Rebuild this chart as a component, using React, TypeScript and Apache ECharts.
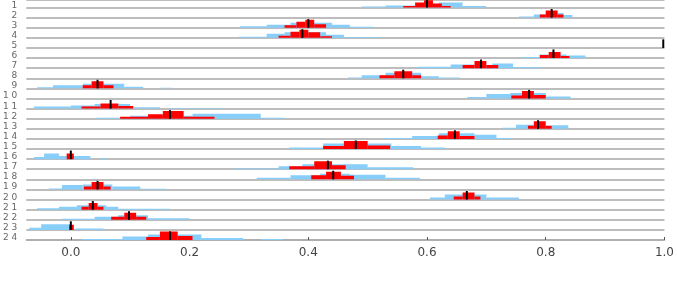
import React, { useEffect, useRef } from "react";
import * as echarts from "echarts";

const rowLabels = ["1","2","3","4","5","6","7","8","9","1 0","1 1","1 2","1 3","1 4","1 5","1 6","1 7","1 8","1 9","2 0","2 1","2 2","2 3","2 4"];
const xTicks = [0, 0.2, 0.4, 0.6, 0.8, 1.0];
const xTickLabels = ["0.0", "0.2", "0.4", "0.6", "0.8", "1.0"];
const means = [0.60,0.81,0.40,0.39,0.998,0.813,0.691,0.56,0.045,0.772,0.067,0.167,0.787,0.647,0.48,0.0,0.433,0.442,0.045,0.667,0.037,0.098,0.0,0.167];

// [start, end, height]
const blueHist: number[][][] = [
  [[0.49,0.53,0.1],[0.53,0.58,0.2],[0.58,0.62,0.3],[0.62,0.66,0.5],[0.66,0.70,0.15]],
  [[0.755,0.78,0.1],[0.78,0.80,0.3],[0.80,0.83,0.45],[0.83,0.845,0.25]],
  [[0.285,0.33,0.15],[0.33,0.37,0.3],[0.37,0.44,0.5],[0.44,0.47,0.3],[0.47,0.51,0.1]],
  [[0.283,0.33,0.1],[0.33,0.36,0.4],[0.36,0.43,0.55],[0.43,0.46,0.3],[0.46,0.52,0.08]],
  [],
  [[0.758,0.79,0.1],[0.79,0.835,0.35],[0.835,0.867,0.25]],
  [[0.585,0.64,0.15],[0.64,0.68,0.35],[0.68,0.71,0.25],[0.71,0.745,0.45],[0.745,0.793,0.1]],
  [[0.467,0.49,0.08],[0.49,0.53,0.3],[0.53,0.59,0.55],[0.59,0.62,0.2],[0.62,0.655,0.08]],
  [[-0.057,-0.03,0.1],[-0.03,0.02,0.3],[0.02,0.09,0.45],[0.09,0.122,0.15],[0.15,0.17,0.05]],
  [[0.668,0.70,0.15],[0.70,0.74,0.45],[0.74,0.80,0.55],[0.80,0.842,0.2]],
  [[-0.062,0.0,0.2],[0.0,0.04,0.3],[0.04,0.10,0.45],[0.10,0.15,0.12],[0.17,0.26,0.05]],
  [[0.043,0.10,0.1],[0.10,0.205,0.3],[0.205,0.32,0.5],[0.32,0.36,0.1]],
  [[0.727,0.75,0.1],[0.75,0.78,0.4],[0.78,0.81,0.3],[0.81,0.838,0.35]],
  [[0.527,0.575,0.1],[0.575,0.62,0.3],[0.62,0.68,0.55],[0.68,0.717,0.4],[0.717,0.743,0.1]],
  [[0.368,0.425,0.15],[0.425,0.54,0.55],[0.54,0.59,0.3],[0.59,0.63,0.15]],
  [[-0.062,-0.045,0.2],[-0.045,-0.02,0.55],[-0.02,0.01,0.3],[0.01,0.033,0.3],[0.05,0.06,0.1]],
  [[0.275,0.35,0.08],[0.35,0.39,0.3],[0.39,0.50,0.5],[0.50,0.577,0.2]],
  [[0.313,0.37,0.15],[0.37,0.42,0.4],[0.42,0.47,0.55],[0.47,0.53,0.45],[0.53,0.588,0.15]],
  [[-0.037,-0.015,0.1],[-0.015,0.02,0.45],[0.02,0.07,0.5],[0.07,0.117,0.3],[0.117,0.16,0.08]],
  [[0.605,0.63,0.2],[0.63,0.70,0.5],[0.70,0.755,0.2]],
  [[-0.057,-0.02,0.15],[-0.02,0.01,0.3],[0.01,0.06,0.45],[0.06,0.08,0.3],[0.08,0.167,0.1]],
  [[-0.015,0.04,0.1],[0.04,0.08,0.3],[0.08,0.13,0.45],[0.13,0.2,0.15]],
  [[-0.07,-0.05,0.2],[-0.05,0.0,0.55],[0.008,0.055,0.15]],
  [[0.018,0.087,0.1],[0.087,0.13,0.35],[0.13,0.22,0.55],[0.22,0.29,0.2],[0.32,0.357,0.1]],
];

const redHist: number[][][] = [
  [[0.56,0.58,0.15],[0.58,0.595,0.5],[0.595,0.61,0.8],[0.61,0.625,0.4],[0.625,0.64,0.15]],
  [[0.79,0.80,0.3],[0.80,0.82,0.7],[0.82,0.83,0.3]],
  [[0.36,0.38,0.25],[0.38,0.395,0.6],[0.395,0.41,0.8],[0.41,0.43,0.35]],
  [[0.35,0.37,0.2],[0.37,0.385,0.6],[0.385,0.40,0.8],[0.40,0.42,0.55],[0.42,0.44,0.15]],
  [],
  [[0.79,0.805,0.3],[0.805,0.825,0.6],[0.825,0.84,0.2]],
  [[0.66,0.68,0.3],[0.68,0.70,0.7],[0.70,0.72,0.3]],
  [[0.52,0.545,0.3],[0.545,0.575,0.7],[0.575,0.59,0.3]],
  [[0.02,0.035,0.3],[0.035,0.055,0.7],[0.055,0.072,0.3]],
  [[0.742,0.76,0.3],[0.76,0.78,0.75],[0.78,0.80,0.35]],
  [[0.018,0.05,0.2],[0.05,0.08,0.5],[0.08,0.105,0.25]],
  [[0.083,0.13,0.2],[0.13,0.155,0.45],[0.155,0.19,0.75],[0.19,0.242,0.2]],
  [[0.77,0.78,0.3],[0.78,0.80,0.75],[0.80,0.81,0.3]],
  [[0.618,0.635,0.35],[0.635,0.655,0.75],[0.655,0.68,0.3]],
  [[0.425,0.46,0.3],[0.46,0.50,0.8],[0.50,0.538,0.35]],
  [[-0.007,0.005,0.55]],
  [[0.368,0.41,0.3],[0.41,0.44,0.8],[0.44,0.463,0.4]],
  [[0.405,0.43,0.4],[0.43,0.455,0.75],[0.455,0.477,0.35]],
  [[0.022,0.035,0.3],[0.035,0.055,0.75],[0.055,0.067,0.3]],
  [[0.645,0.66,0.3],[0.66,0.68,0.7],[0.68,0.69,0.3]],
  [[0.018,0.03,0.3],[0.03,0.045,0.65],[0.045,0.055,0.3]],
  [[0.068,0.09,0.3],[0.09,0.11,0.7],[0.11,0.127,0.3]],
  [[-0.003,0.005,0.5]],
  [[0.127,0.15,0.3],[0.15,0.18,0.85],[0.18,0.205,0.4]],
];

const nRows = rowLabels.length;

function histData(hist: number[][][]) {
  const out: number[][] = [];
  hist.forEach((bins, i) => {
    bins.forEach((b) => out.push([b[0], b[1], b[2], nRows - 1 - i]));
  });
  return out;
}

function barRender(color: string) {
  return (params: any, api: any) => {
    const base = api.value(3);
    const p0 = api.coord([api.value(0), base]);
    const p1 = api.coord([api.value(1), base + api.value(2)]);
    return {
      type: "rect",
      shape: { x: p0[0], y: p1[1], width: p1[0] - p0[0], height: p0[1] - p1[1] },
      style: { fill: color },
    };
  };
}

export default function App() {
  const ref = useRef<HTMLDivElement>(null);
  useEffect(() => {
    if (!ref.current) return;
    const chart = echarts.init(ref.current, null, { renderer: "svg" });
    const meanData = means.map((m, i) => [m, nRows - 1 - i]);
    chart.setOption({
      animation: false,
      grid: { left: 22, top: 0, width: 645, height: 240, containLabel: false },
      xAxis: {
        type: "value",
        min: -0.075,
        max: 1.0,
        axisLine: { show: true, lineStyle: { color: "#aaaaaa", width: 1.5 } },
        axisTick: { show: true, inside: true, length: 3, customValues: xTicks, lineStyle: { color: "#555" } },
        axisLabel: {
          customValues: xTicks,
          formatter: (v: number) => {
            let best = 0;
            xTicks.forEach((t, i) => { if (Math.abs(t - v) < Math.abs(xTicks[best] - v)) best = i; });
            return xTickLabels[best];
          },
          color: "#444",
          fontSize: 12,
          fontFamily: "DejaVu Sans",
          margin: 6,
        },
        splitLine: { show: false },
      },
      yAxis: {
        type: "value",
        min: 0,
        max: 23.72,
        interval: 1,
        axisLine: { show: false },
        axisTick: { show: false },
        axisLabel: {
          show: true,
          formatter: (v: number) => (v >= 0 && v <= nRows - 1 && Number.isInteger(v) ? rowLabels[nRows - 1 - v] : ""),
          color: "#666",
          fontSize: 9,
          fontFamily: "DejaVu Sans",
          margin: 9,
          verticalAlign: "bottom",
          lineHeight: 6,
        },
        splitLine: { show: true, lineStyle: { color: "#bdbdbd", width: 2 } },
      },
      series: [
        { type: "custom", renderItem: barRender("#87cefa"), data: histData(blueHist), encode: { x: [0, 1], y: 3 }, clip: true },
        { type: "custom", renderItem: barRender("#ff0000"), data: histData(redHist), encode: { x: [0, 1], y: 3 }, clip: true },
        {
          type: "custom",
          data: meanData,
          encode: { x: 0, y: 1 },
          renderItem: (params: any, api: any) => {
            const p0 = api.coord([api.value(0), api.value(1)]);
            const p1 = api.coord([api.value(0), api.value(1) + 0.85]);
            return {
              type: "rect",
              shape: { x: p0[0] - 1, y: p1[1], width: 2, height: p0[1] - p1[1] },
              style: { fill: "#000" },
            };
          },
        },
      ],
    });
    return () => chart.dispose();
  }, []);
  return <div ref={ref} style={{ position: "fixed", left: 0, top: 0, width: 677, height: 281 }} />;
}
